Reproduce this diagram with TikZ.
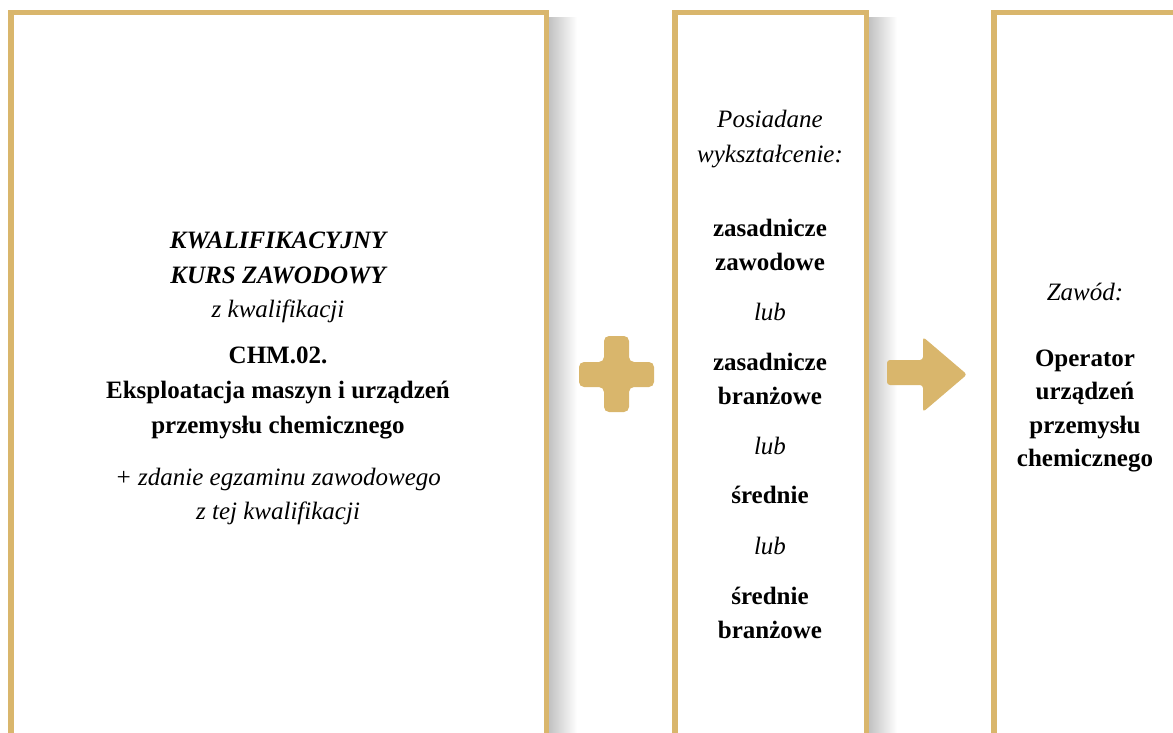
\documentclass[tikz,border=0pt]{standalone}
\usepackage{fontspec}
\setmainfont{Liberation Serif}
\usetikzlibrary{positioning}
\definecolor{gold}{RGB}{217,182,108}

\begin{document}
\begin{tikzpicture}[x=1pt, y=-1pt,
    panel/.style={draw=gold, line width=5.5pt},
    glow/.style={left color=black!24, right color=white, draw=none},
    sign/.style={fill=gold, draw=none, rounded corners=5pt},
    txt/.style={anchor=base, inner sep=0pt, font=\fontsize{25}{30}\selectfont},
    lbl/.style={txt, font=\fontsize{25}{30}\selectfont\itshape},
    key/.style={txt, font=\fontsize{25}{30}\selectfont\bfseries},
    head/.style={txt, font=\fontsize{25}{30}\selectfont\bfseries\itshape}]
  \useasboundingbox (0,0) rectangle (1173,733);
  \clip (0,0) rectangle (1173,733);

  % Shadows behind the panels
  \shade[glow] (549,18) rectangle (577,733);
  \shade[glow] (869,18) rectangle (897,733);

  % Panels
  \draw[panel] (10.75,12.75) rectangle (546.25,745);
  \draw[panel] (674.75,12.75) rectangle (866.25,745);
  \draw[panel] (993.75,12.75) rectangle (1185,745);

  % Course panel
  \node[head] (kwal) at (278,248) {KWALIFIKACYJNY};
  \node[head] (kurs) at (278,283) {KURS ZAWODOWY};
  \node[lbl] (zkwal) at (278,317) {z kwalifikacji};
  \node[key] (chm) at (278,363) {CHM.02.};
  \node[key] (eksp) at (278,398) {Eksploatacja maszyn i urządzeń};
  \node[key] (przem) at (278,433) {przemysłu chemicznego};
  \node[lbl] (zdanie) at (278,485) {+ zdanie egzaminu zawodowego};
  \node[lbl] (ztej) at (278,519) {z tej kwalifikacji};

  % Plus sign
  \fill[sign] (579,362) -- (604,362) -- (604,336) -- (629,336) -- (629,362)
    -- (654,362) -- (654,387) -- (629,387) -- (629,412) -- (604,412)
    -- (604,387) -- (579,387) -- cycle;

  % Education panel
  \node[lbl] (pos) at (770,128) {Posiadane};
  \node[lbl] (wyk) at (770,163) {wykształcenie:};
  \node[key] (zas1) at (770,236) {zasadnicze};
  \node[key] (zaw) at (770,270) {zawodowe};
  \node[lbl] (lub1) at (770,320) {lub};
  \node[key] (zas2) at (770,370) {zasadnicze};
  \node[key] (bra1) at (770,404) {branżowe};
  \node[lbl] (lub2) at (770,454) {lub};
  \node[key] (sre1) at (770,503) {średnie};
  \node[lbl] (lub3) at (770,554) {lub};
  \node[key] (sre2) at (770,604) {średnie};
  \node[key] (bra2) at (770,638) {branżowe};

  % Arrow
  \fill[sign, rounded corners=3pt] (887,360) -- (923,360) -- (923,337) -- (967,374.5)
    -- (923,412) -- (923,385) -- (887,385) -- cycle;

  % Job panel
  \node[lbl] (zawod) at (1085,300) {Zawód:};
  \node[key] (oper) at (1085,366) {Operator};
  \node[key] (urz) at (1085,399) {urządzeń};
  \node[key] (prz) at (1085,433) {przemysłu};
  \node[key] (chem) at (1085,466) {chemicznego};
\end{tikzpicture}
\end{document}
